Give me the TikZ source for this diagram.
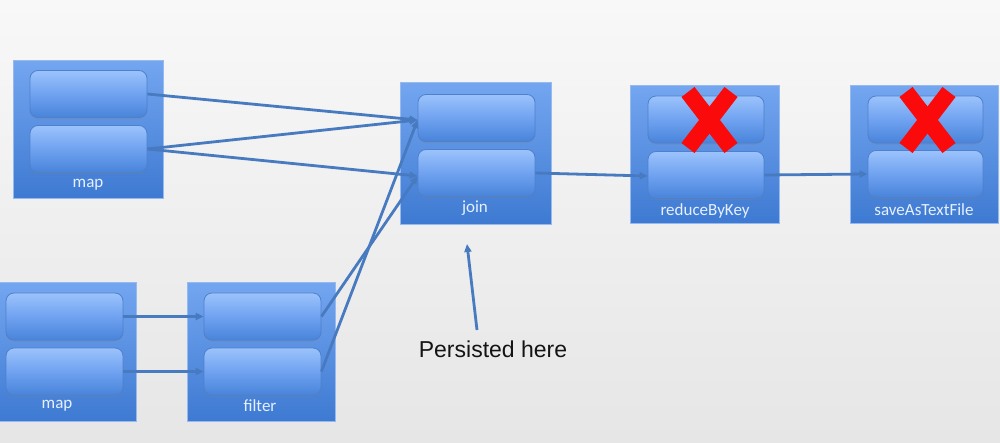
\documentclass[tikz,border=0pt]{standalone}
\usepackage{fontspec}
\setmainfont{Carlito}
\newfontfamily\arialfont{Liberation Sans}
\usetikzlibrary{arrows.meta,shadows}
\definecolor{bgTop}{RGB}{248,248,248}
\definecolor{bgBot}{RGB}{230,230,230}
\definecolor{obTop}{RGB}{116,166,240}
\definecolor{obBot}{RGB}{62,122,210}
\definecolor{obBorder}{RGB}{150,185,240}
\definecolor{ibTop}{RGB}{155,195,252}
\definecolor{ibMid}{RGB}{112,162,240}
\definecolor{ibBot}{RGB}{72,132,218}
\definecolor{ibBorder}{RGB}{78,128,205}
\definecolor{lnColor}{RGB}{72,122,192}
\definecolor{lblColor}{RGB}{230,240,255}
\definecolor{xRed}{RGB}{250,10,10}
\tikzset{
  outerbox/.style={draw=obBorder, line width=0.8pt, top color=obTop, bottom color=obBot, inner sep=0pt},
  innerbox/.style={draw=ibBorder, line width=0.8pt, rounded corners=8pt, top color=ibTop, bottom color=ibBot, middle color=ibMid, inner sep=0pt, minimum width=117pt, minimum height=47pt, drop shadow={opacity=0.25, shadow xshift=0pt, shadow yshift=-1.5pt}},
  boxlabel/.style={text=lblColor, font=\fontsize{17}{20}\selectfont, inner sep=0pt},
  flow/.style={draw=lnColor, line width=2.8pt, -{Triangle[length=8pt,width=7pt]}},
  cross/.style={draw=xRed, line width=16.5pt, line cap=butt}
}
\begin{document}
\begin{tikzpicture}[x=1pt,y=-1pt]
\useasboundingbox (0,0) rectangle (1000,442);
\shade[top color=bgTop, bottom color=bgBot] (0,0) rectangle (1000,442);

% outer boxes
\node[outerbox, minimum width=150pt, minimum height=138pt] (A) at (88,129) {};
\node[outerbox, minimum width=151pt, minimum height=142pt] (J) at (475.5,153) {};
\node[outerbox, minimum width=149pt, minimum height=138pt] (R) at (704.5,154) {};
\node[outerbox, minimum width=148pt, minimum height=138pt] (S) at (924,154) {};
\node[outerbox, minimum width=138pt, minimum height=139pt] (B) at (67,351.5) {};
\node[outerbox, minimum width=148pt, minimum height=139pt] (F) at (261,351.5) {};

% inner partitions
\node[innerbox] (a1) at (88.5,94) {};
\node[innerbox] (a2) at (88.5,149) {};
\node[innerbox] (j1) at (476.5,118) {};
\node[innerbox] (j2) at (476.5,173) {};
\node[innerbox, minimum width=116pt] (r1) at (706,119.5) {};
\node[innerbox, minimum width=116pt] (r2) at (706,175) {};
\node[innerbox, minimum width=115pt] (s1) at (925.5,119.5) {};
\node[innerbox, minimum width=115pt] (s2) at (925.5,174) {};
\node[innerbox] (b1) at (64.5,316.5) {};
\node[innerbox] (b2) at (64.5,371.5) {};
\node[innerbox] (f1) at (262.5,316.5) {};
\node[innerbox] (f2) at (262.5,371.5) {};

% labels
\node[boxlabel] (lA) at (88,185) {map};
\node[boxlabel] (lJ) at (475,208) {join};
\node[boxlabel] (lR) at (705,211) {reduceByKey};
\node[boxlabel] (lS) at (924,210) {saveAsTextFile};
\node[boxlabel] (lB) at (57,406) {map};
\node[boxlabel] (lF) at (260,406) {filter};

% connectors
\coordinate (j1in) at ([yshift=-2pt]j1.west);
\coordinate (j2in) at ([yshift=-3pt]j2.west);
\draw[flow] (a1.east) -- (j1in);
\draw[flow] (a2.east) -- (j1in);
\draw[flow] (a2.east) -- (j2in);
\draw[flow] (f1.east) -- (j2in);
\draw[flow] (f2.east) -- (j1in);
\draw[flow] (b1.east) -- (f1.west);
\draw[flow] (b2.east) -- (f2.west);
\draw[flow] (j2.east) -- ([yshift=-1pt]r2.west);
\draw[flow] (r2.east) -- (s2.west);

% annotation
\node[font=\arialfont\fontsize{23}{26}\selectfont, text=black!92, inner sep=0pt] (P) at (493,349) {Persisted here};
\coordinate (ptail) at (477,330);
\coordinate (phead) at (467,244);
\draw[flow] (ptail) -- (phead);

% red crosses
\draw[cross] (688,92) -- (731,148);
\draw[cross] (731,92) -- (688,148);
\draw[cross] (906,92) -- (949,148);
\draw[cross] (949,92) -- (906,148);
\end{tikzpicture}
\end{document}
